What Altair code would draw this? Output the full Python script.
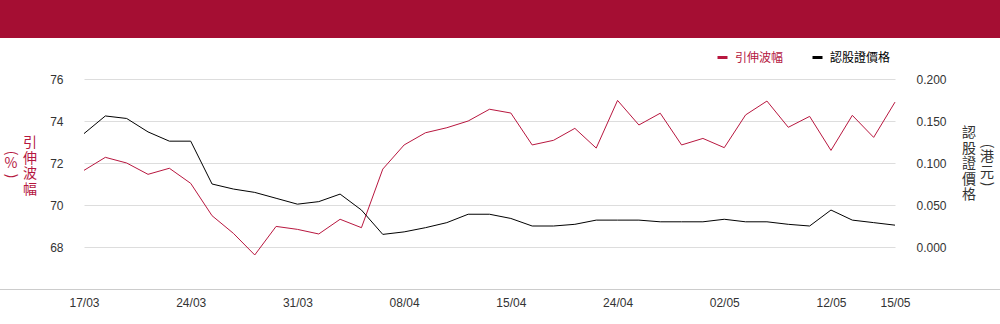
import altair as alt
import pandas as pd

dates = ["17/03","18/03","19/03","20/03","21/03","24/03","25/03","26/03","27/03","28/03",
         "31/03","01/04","02/04","03/04","07/04","08/04","09/04","10/04","11/04","14/04",
         "15/04","16/04","17/04","22/04","23/04","24/04","25/04","28/04","29/04","30/04",
         "02/05","06/05","07/05","08/05","09/05","12/05","13/05","14/05","15/05"]
tick_dates = ["17/03","24/03","31/03","08/04","15/04","24/04","02/05","12/05","15/05"]

implied_vol = [71.65,72.27,72.0,71.46,71.75,71.03,69.49,68.65,67.62,68.98,
               68.84,68.62,69.32,68.92,71.71,72.86,73.44,73.68,74.0,74.56,
               74.38,72.86,73.08,73.65,72.71,74.98,73.81,74.37,72.86,73.17,
               72.73,74.29,74.95,73.7,74.22,72.6,74.27,73.22,74.9]
warrant_price = [0.135,0.156,0.153,0.137,0.126,0.126,0.075,0.069,0.065,0.058,
                 0.051,0.054,0.063,0.044,0.015,0.018,0.023,0.029,0.039,0.039,
                 0.034,0.025,0.025,0.027,0.032,0.032,0.032,0.030,0.030,0.030,
                 0.033,0.030,0.030,0.027,0.025,0.044,0.032,0.029,0.026]

iv_ticks = [68, 70, 72, 74, 76]
price_ticks = [0.0, 0.05, 0.1, 0.15, 0.2]

RED = "#A50E33"
LINE_RED = "#B8173F"
TITLE_RED = "#B5173F"
TXT = "#333333"
LATIN = "Liberation Sans"
CJK = "Noto Sans CJK TC"

df = pd.DataFrame({"date": dates, "iv": implied_vol, "price": warrant_price})
one = pd.DataFrame({"k": [0]})
base = alt.Chart(df)

x_enc = alt.X("date:O", sort=dates,
              scale=alt.Scale(type="point", padding=0),
              axis=alt.Axis(values=tick_dates, labelAngle=0, domain=False, ticks=False,
                            grid=False, title=None, labelPadding=8, labelOverlap=False,
                            labelFont=LATIN, labelFontSize=12, labelColor=TXT))

iv_line = base.transform_calculate(series='"引伸波幅"').mark_line(strokeWidth=1).encode(
    x=x_enc,
    y=alt.Y("iv:Q", scale=alt.Scale(domain=[66, 77], nice=False, zero=False),
            axis=alt.Axis(orient="left", values=iv_ticks, title=None, grid=True,
                          gridColor="#dddddd", domain=False, ticks=False, labelPadding=21,
                          labelFont=LATIN, labelFontSize=12, labelColor=TXT)),
    color=alt.Color("series:N", scale=alt.Scale(domain=["引伸波幅"], range=[LINE_RED]),
                    legend=alt.Legend(title=None, orient="none", legendX=632, legendY=-7,
                                      symbolType="stroke", symbolSize=100, symbolStrokeWidth=3,
                                      symbolStrokeColor=RED,
                                      labelColor=TITLE_RED, labelFont=CJK, labelFontSize=12,
                                      labelOffset=6)),
)

price_line = base.transform_calculate(series='"認股證價格"').mark_line(strokeWidth=1).encode(
    x=x_enc,
    y=alt.Y("price:Q", scale=alt.Scale(domain=[-0.05, 0.225], nice=False, zero=False),
            axis=alt.Axis(orient="right", values=price_ticks, format=".3f", title=None,
                          grid=False, domain=False, ticks=False, labelPadding=21,
                          labelFont=LATIN, labelFontSize=12, labelColor=TXT)),
    color=alt.Color("series:N", scale=alt.Scale(domain=["認股證價格"], range=["#000000"]),
                    legend=alt.Legend(title=None, orient="none", legendX=727, legendY=-7,
                                      symbolType="stroke", symbolSize=100, symbolStrokeWidth=3,
                                      labelColor="#000000", labelFont=CJK, labelFontSize=12,
                                      labelOffset=6)),
)

header = alt.Chart(one).mark_rect(color=RED).encode(
    x=alt.value(-84), x2=alt.value(916), y=alt.value(-58), y2=alt.value(-20))
bottom_rule = alt.Chart(one).mark_rule(color="#cccccc", strokeWidth=1).encode(
    x=alt.value(-84), x2=alt.value(916), y=alt.value(231.5))

def txt(text, x, y, color, angle=0):
    kw = dict(text=text, font=CJK, fontSize=14, color=color, align="center",
              baseline="middle", lineHeight=15.5)
    if angle:
        kw["angle"] = angle
    return alt.Chart(one).mark_text(**kw).encode(x=alt.value(x), y=alt.value(y))

# y values give the centre of the first line of each stacked title
left_title = txt(["引", "伸", "波", "幅"], 30 - 84, 143 - 58, TITLE_RED)
left_p1 = txt("(", 11 - 84, 153 - 58, TITLE_RED, 90)
left_pct = txt("%", 11 - 84, 164 - 58, TITLE_RED)
left_p2 = txt(")", 11 - 84, 176 - 58, TITLE_RED, 90)

right_title = txt(["認", "股", "證", "價", "格"], 969 - 84, 133 - 58, TXT)
right_p1 = txt("(", 987 - 84, 146 - 58, TXT, 90)
right_units = txt(["港", "元"], 987 - 84, 157 - 58, TXT)
right_p2 = txt(")", 987 - 84, 184 - 58, TXT, 90)

chart = alt.layer(
    header, bottom_rule, left_title, left_p1, left_pct, left_p2,
    right_title, right_p1, right_units, right_p2,
    iv_line, price_line,
).resolve_scale(y="independent", color="independent").properties(
    width=811, height=231,
    padding={"left": 84, "top": 58, "right": 105, "bottom": 35},
    autosize=alt.AutoSizeParams(type="none"),
    background="white",
).configure_view(stroke=None)

chart.save("out.html", embed_options={"renderer": "svg", "actions": False})
